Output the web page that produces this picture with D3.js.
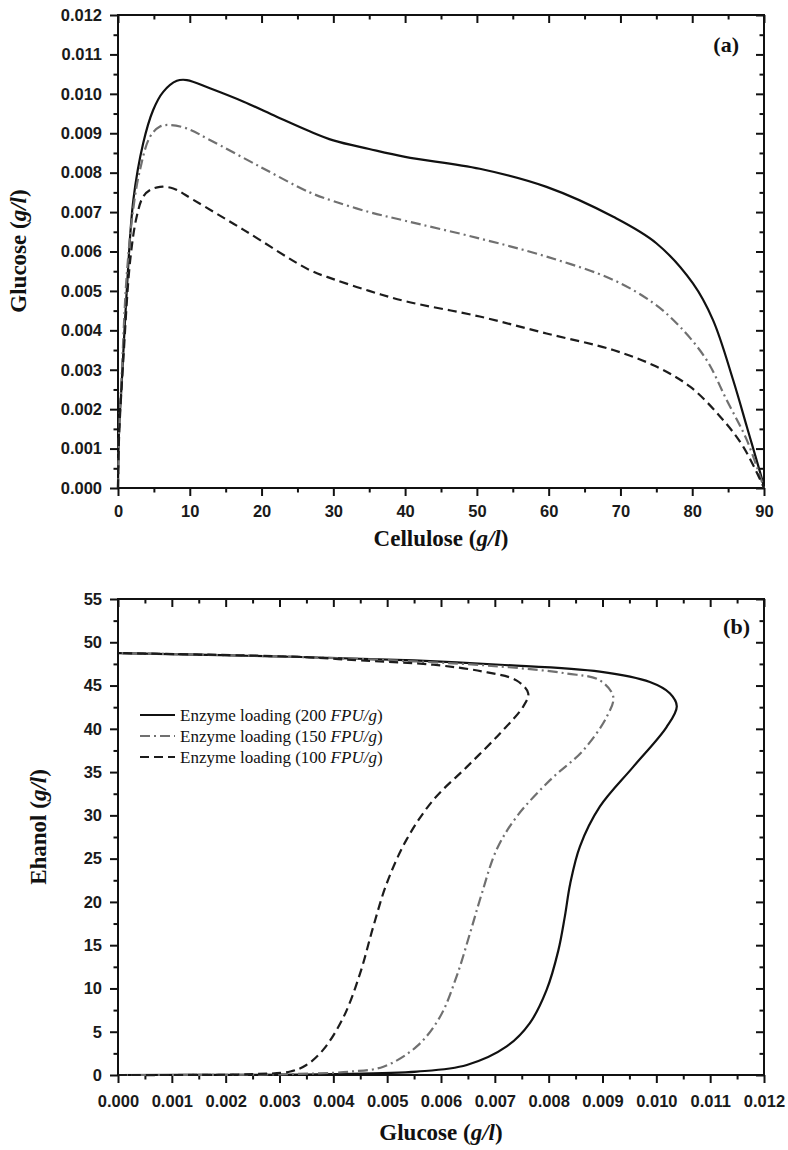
<!DOCTYPE html>
<html>
<head>
<meta charset="utf-8">
<script src="https://cdn.jsdelivr.net/npm/d3@7"></script>
<style>
  body { margin: 0; background: #fff; }
  .tick text { font-family: "Liberation Sans", Arial, sans-serif; font-size: 16.5px; font-weight: bold; fill: #1a1a1a; }
  .title { font-family: "Liberation Serif", "Times New Roman", serif; font-weight: bold; fill: #111; }
  .legend text { font-family: "Liberation Serif", "Times New Roman", serif; font-size: 17px; fill: #111; }
</style>
</head>
<body>
<div id="chart"></div>
<script>
// panel (a): glucose vs cellulose
const cellulose200 = [0, 0.15, 0.5, 1.2, 2.14, 3.5, 4.9, 6.3, 8.2, 9.6, 12.8, 17.5, 22.1, 26.7, 30, 35, 40, 50.4, 59.7, 69, 75, 80.1, 82.9, 85.7, 87.6, 89.9, 90]
const glucoseA200 = [0, 0.0015, 0.0026, 0.00494, 0.00731, 0.00874, 0.00959, 0.01005, 0.01033, 0.01035, 0.01014, 0.0098, 0.00942, 0.00905, 0.00882, 0.0086, 0.0084, 0.0081, 0.00764, 0.00688, 0.00621, 0.00519, 0.00426, 0.00274, 0.00156, 0.0001, 0]
const cellulose150 = [0, 0.15, 0.5, 1.2, 2.1, 3.06, 4.46, 5.85, 7.2, 9.6, 12.8, 19.8, 26.7, 30, 35, 40, 50.4, 59.7, 69, 74.6, 78.3, 82, 84.8, 87.6, 90]
const glucoseA150 = [0, 0.0014, 0.0028, 0.00536, 0.00705, 0.00807, 0.00891, 0.00917, 0.00921, 0.00912, 0.00883, 0.00815, 0.0075, 0.00728, 0.007, 0.00678, 0.00633, 0.00587, 0.00528, 0.00469, 0.00409, 0.00325, 0.00223, 0.00122, 0]
const cellulose100 = [0, 0.15, 0.74, 1.7, 2.6, 3.5, 4.46, 5.85, 7.7, 10.5, 17.5, 26.7, 30, 35, 40, 50.4, 59.7, 69, 75, 79.7, 83.9, 87.1, 90]
const glucoseA100 = [0, 0.0013, 0.00325, 0.00578, 0.00688, 0.00739, 0.00756, 0.00764, 0.0076, 0.00731, 0.00655, 0.00553, 0.0053, 0.005, 0.00474, 0.00435, 0.00392, 0.0035, 0.00308, 0.00257, 0.00181, 0.00105, 0]

// panel (b): ethanol vs glucose (path order, bottom branch first)
const glucoseB200 = [0, 0.002, 0.004, 0.00555, 0.00648, 0.00722, 0.00765, 0.00796, 0.00818, 0.0083, 0.0084, 0.00858, 0.00895, 0.00957, 0.01019, 0.01038, 0.01025, 0.00988, 0.00895, 0.0071, 0.0055, 0.00338, 0]
const ethanol200 = [0, 0.02, 0.1, 0.39, 1.16, 3.3, 6.0, 9.8, 14.4, 18.3, 22.1, 26.4, 31.0, 35.6, 40.2, 42.6, 44.1, 45.4, 46.6, 47.4, 47.9, 48.3, 48.75]
const glucoseB150 = [0, 0.0015, 0.003, 0.00431, 0.00493, 0.00555, 0.00598, 0.00629, 0.00654, 0.00676, 0.00703, 0.0074, 0.00803, 0.00864, 0.00908, 0.0092, 0.00895, 0.00833, 0.0071, 0.0055, 0.0034, 0]
const ethanol150 = [0, 0.01, 0.08, 0.39, 0.96, 3.3, 6.7, 11.4, 16.4, 21.0, 26.0, 29.8, 34.1, 37.5, 41.4, 43.7, 45.6, 46.4, 47.2, 47.8, 48.3, 48.75]
const glucoseB100 = [0, 0.0015, 0.0025, 0.0032, 0.0035, 0.00381, 0.00419, 0.0045, 0.00474, 0.00499, 0.00536, 0.00586, 0.00648, 0.0071, 0.00753, 0.00762, 0.0074, 0.00679, 0.00586, 0.0045, 0.0034, 0]
const ethanol100 = [0, 0.01, 0.1, 0.4, 1.16, 2.9, 6.7, 11.8, 17.1, 22.1, 27.2, 31.8, 35.6, 39.5, 42.6, 44.1, 45.6, 46.6, 47.4, 47.9, 48.3, 48.75]

const loadings = ['200', '150', '100']
const xTicksA = [0, 10, 20, 30, 40, 50, 60, 70, 80, 90]
const yTicksA = [0, 0.001, 0.002, 0.003, 0.004, 0.005, 0.006, 0.007, 0.008, 0.009, 0.010, 0.011, 0.012]
const xTicksB = [0, 0.001, 0.002, 0.003, 0.004, 0.005, 0.006, 0.007, 0.008, 0.009, 0.010, 0.011, 0.012]
const yTicksB = [0, 5, 10, 15, 20, 25, 30, 35, 40, 45, 50, 55]

const styles = {
  '200': {stroke: '#111', dash: null},
  '150': {stroke: '#707070', dash: '10,4,2,4'},
  '100': {stroke: '#1c1c1c', dash: '9,5'}
}

const svg = d3.select('#chart')
  .append('svg')
  .attr('width', 788)
  .attr('height', 1150)

svg.append('rect').attr('width', 788).attr('height', 1150).attr('fill', '#fff')

function zip (xs, ys) {
  return xs.map((x, i) => [x, ys[i]])
}

function mids (ticks) {
  let out = []
  for (let i = 0; i < ticks.length - 1; i++) out.push((ticks[i] + ticks[i + 1]) / 2)
  return out
}

function drawPanel (cfg) {
  let x = d3.scaleLinear().domain(cfg.xDomain).range([cfg.left, cfg.right])
  let y = d3.scaleLinear().domain(cfg.yDomain).range([cfg.bottom, cfg.top])
  let g = svg.append('g')

  let axes = [
    {ax: d3.axisBottom(x), tr: `translate(0,${cfg.bottom})`, out: true, t: cfg.xTicks, f: cfg.xFmt, pad: cfg.xPad},
    {ax: d3.axisLeft(y), tr: `translate(${cfg.left},0)`, out: true, t: cfg.yTicks, f: cfg.yFmt, pad: 8},
    {ax: d3.axisTop(x), tr: `translate(0,${cfg.top})`, out: false, t: cfg.xTicks},
    {ax: d3.axisRight(y), tr: `translate(${cfg.right},0)`, out: false, t: cfg.yTicks}
  ]
  axes.forEach(a => {
    let s = a.out ? 1 : -1
    g.append('g')
      .attr('transform', a.tr)
      .call(a.ax.tickValues(a.t).tickSize(8 * s).tickPadding(a.out ? a.pad : 0)
        .tickFormat(a.f ? a.f : () => ''))
      .call(sel => sel.select('.domain').remove())
    g.append('g')
      .attr('transform', a.tr)
      .call(a.ax.tickValues(mids(a.t)).tickSize(4.5 * s).tickFormat(() => ''))
      .call(sel => sel.select('.domain').remove())
  })
  g.selectAll('.tick line').attr('stroke', '#111').attr('stroke-width', 2)

  g.append('rect')
    .attr('x', cfg.left)
    .attr('y', cfg.top)
    .attr('width', cfg.right - cfg.left)
    .attr('height', cfg.bottom - cfg.top)
    .attr('fill', 'none')
    .attr('stroke', '#111')
    .attr('stroke-width', 2)

  let line = d3.line()
    .x(d => x(d[0]))
    .y(d => y(d[1]))
    .curve(d3.curveCatmullRom.alpha(0.5))

  g.selectAll('.series')
    .data(cfg.series)
    .enter()
    .append('path')
    .attr('class', 'series')
    .attr('d', d => line(d.pts))
    .attr('fill', 'none')
    .attr('stroke', d => styles[d.key].stroke)
    .attr('stroke-width', 2.2)
    .attr('stroke-dasharray', d => styles[d.key].dash)

  return {x, y, g}
}

function title (x, y, rot, size, parts) {
  let t = svg.append('text')
    .attr('class', 'title')
    .attr('text-anchor', 'middle')
    .attr('font-size', size)
    .attr('transform', `translate(${x},${y}) rotate(${rot})`)
  parts.forEach(p => {
    t.append('tspan').text(p[0]).attr('font-style', p[1] ? 'italic' : null)
  })
}

let fmt3 = d3.format('.3f')

drawPanel({
  left: 118, right: 764, top: 15, bottom: 488,
  xDomain: [0, 90], yDomain: [0, 0.012],
  xTicks: xTicksA, yTicks: yTicksA,
  xFmt: d3.format('d'), yFmt: fmt3, xPad: 9,
  series: [
    {key: '200', pts: zip(cellulose200, glucoseA200)},
    {key: '150', pts: zip(cellulose150, glucoseA150)},
    {key: '100', pts: zip(cellulose100, glucoseA100)}
  ]
})

drawPanel({
  left: 118, right: 764, top: 599, bottom: 1075,
  xDomain: [0, 0.012], yDomain: [0, 55],
  xTicks: xTicksB, yTicks: yTicksB,
  xFmt: fmt3, yFmt: d3.format('d'), xPad: 12,
  series: [
    {key: '200', pts: zip(glucoseB200, ethanol200)},
    {key: '150', pts: zip(glucoseB150, ethanol150)},
    {key: '100', pts: zip(glucoseB100, ethanol100)}
  ]
})

// axis titles
title(26, 251, -90, 23, [['Glucose ('], ['g/l', true], [')']])
title(441, 546, 0, 23, [['Cellulose ('], ['g/l', true], [')']])
title(46, 827, -90, 23, [['Ehanol ('], ['g/l', true], [')']])
title(441, 1140, 0, 23, [['Glucose ('], ['g/l', true], [')']])

svg.append('text').attr('class', 'title').attr('font-size', 22)
  .attr('text-anchor', 'end').attr('x', 739).attr('y', 52).text('(a)')
svg.append('text').attr('class', 'title').attr('font-size', 22)
  .attr('text-anchor', 'end').attr('x', 750).attr('y', 634).text('(b)')

// legend
let legend = svg.append('g').attr('class', 'legend')
loadings.forEach((k, i) => {
  let yy = 715 + i * 21
  legend.append('line')
    .attr('x1', 140).attr('x2', 175)
    .attr('y1', yy).attr('y2', yy)
    .attr('stroke', styles[k].stroke)
    .attr('stroke-width', 2.2)
    .attr('stroke-dasharray', styles[k].dash)
  let t = legend.append('text').attr('x', 180).attr('y', yy + 5.5)
  t.append('tspan').text('Enzyme loading (' + k + ' ')
  t.append('tspan').attr('font-style', 'italic').text('FPU/g')
  t.append('tspan').text(')')
})
</script>
</body>
</html>
